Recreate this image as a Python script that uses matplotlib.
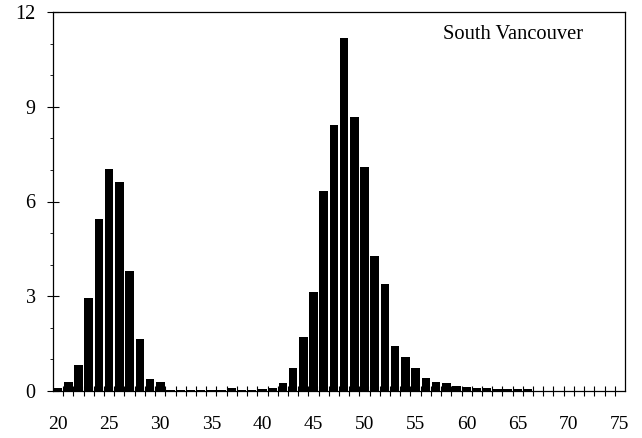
import matplotlib
matplotlib.use("Agg")
import matplotlib.pyplot as plt
from matplotlib.ticker import FixedLocator, MultipleLocator

plt.rcParams['font.family'] = ['Liberation Serif', 'DejaVu Serif']

# Categories (ages) and percentage values
categories = list(range(20, 76))
values = [
    0.08, 0.28, 0.82, 2.96, 5.45, 7.02, 6.63, 3.79, 1.64, 0.38,   # 20-29
    0.28, 0.02, 0.02, 0.02, 0.02, 0.02, 0.02, 0.10, 0.03, 0.03,   # 30-39
    0.05, 0.10, 0.26, 0.72, 1.72, 3.15, 6.32, 8.42, 11.18, 8.68,  # 40-49
    7.08, 4.28, 3.38, 1.42, 1.08, 0.72, 0.40, 0.28, 0.26, 0.16,   # 50-59
    0.13, 0.08, 0.08, 0.07, 0.07, 0.07, 0.06, 0.0, 0.0, 0.0,      # 60-69
    0.0, 0.0, 0.0, 0.0, 0.0, 0.0,                                 # 70-75
]
x_labels = [20, 25, 30, 35, 40, 45, 50, 55, 60, 65, 70, 75]
y_ticks = [0, 3, 6, 9, 12]
title_text = "South Vancouver"

fig = plt.figure(figsize=(6.42, 4.38), dpi=100)
ax = fig.add_axes([53 / 642, 1 - 391 / 438, 572 / 642, 379 / 438])

ax.bar(categories, values, width=0.84, color='black', edgecolor='black', linewidth=0)

ax.set_xlim(categories[0] - 0.5, categories[-1] + 0.5)
ax.set_ylim(0, 12)

# x: labels at category centres (no mark), tick marks between categories
ax.xaxis.set_major_locator(FixedLocator(x_labels))
ax.set_xticklabels([str(v) for v in x_labels])
ax.xaxis.set_minor_locator(FixedLocator([c + 0.5 for c in categories[:-1]]))
ax.tick_params(axis='x', which='major', length=0, pad=18, labelsize=14, direction='out')
ax.tick_params(axis='x', which='minor', length=7, width=0.8, direction='inout')

# y
ax.yaxis.set_major_locator(FixedLocator(y_ticks))
ax.yaxis.set_minor_locator(MultipleLocator(1))
ax.tick_params(axis='y', which='major', length=8, width=0.8, direction='inout',
               pad=8.5, labelsize=14.5)
ax.tick_params(axis='y', which='minor', length=2, width=0.6, direction='out')

for s in ax.spines.values():
    s.set_linewidth(0.9)
    s.set_color('black')

ax.text(0.682, 0.928, title_text, transform=ax.transAxes, fontsize=14.8,
        ha='left', va='baseline')

fig.savefig('out.png', dpi=100)
